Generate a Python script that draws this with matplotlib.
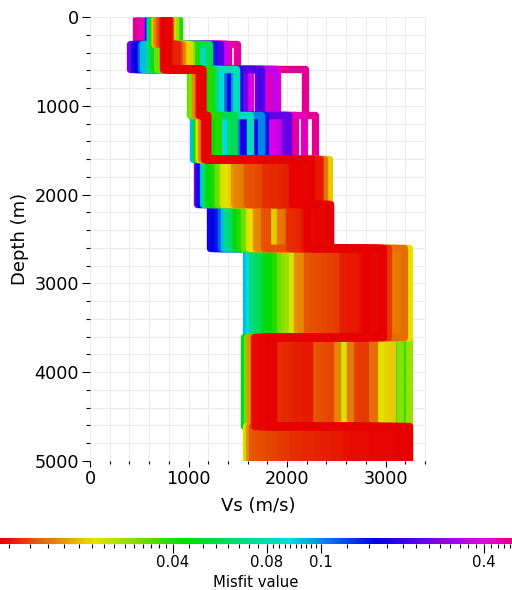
import numpy as np
import matplotlib
matplotlib.use("Agg")
import matplotlib.pyplot as plt
from matplotlib import colors
from matplotlib.cm import ScalarMappable
from matplotlib.ticker import MultipleLocator

# layer tops (m); the last layer is the half space down to depth_max
layer_top = [0, 305, 585, 1100, 1600, 2105, 2605, 3600, 4605]
depth_max = 5000

# one entry per model, worst misfit first (so the best ones are drawn on top)
misfit = [0.49, 0.47, 0.45,
          0.39, 0.37, 0.35,
          0.26, 0.24, 0.22,
          0.17, 0.157, 0.145,
          0.112, 0.102,
          0.092, 0.087, 0.082,
          0.068, 0.063, 0.058,
          0.047, 0.043, 0.040,
          0.032, 0.030, 0.028,
          0.0235, 0.0225, 0.0215, 0.021,
          0.0172, 0.0168, 0.0164, 0.016, 0.0156,
          0.0145, 0.0143, 0.0141, 0.0139, 0.0137, 0.0135, 0.0133,
          0.0129, 0.0128, 0.0127, 0.0126, 0.0125, 0.0124, 0.0123, 0.0122, 0.0121,
          0.0118, 0.0117, 0.0116, 0.0116, 0.0115, 0.0115, 0.0114, 0.0114, 0.0113, 0.0113, 0.0112]

# Vs (m/s) of every model, layer by layer
vs1 = [470, 500, 530,
       700, 760, 790,
       690, 740, 780,
       585, 720, 770,
       600, 750,
       612, 780, 760,
       622, 700, 760,
       632, 880, 900,
       645, 850, 865,
       658, 820, 835, 770,
       670, 690, 710, 815, 790,
       700, 720, 735, 750, 770, 790, 805,
       730, 745, 755, 765, 775, 785, 795, 805, 740,
       745, 755, 765, 775, 785, 760, 770, 780, 790, 750, 770]
vs2 = [1400, 1490, 1390,
       1345, 1375, 780,
       410, 1290, 1320,
       450, 480, 1250,
       515, 565,
       540, 1110, 1160,
       595, 620, 1205,
       650, 1050, 1075,
       680, 1030, 790,
       945, 975, 1005, 780,
       915, 930, 800, 850, 760,
       890, 900, 800, 820, 840, 860, 870,
       820, 835, 850, 865, 880, 800, 810, 790, 775,
       745, 750, 755, 760, 765, 770, 775, 780, 785, 790, 760]
vs3 = [2185, 1830, 1900,
       1620, 1780, 1880,
       1565, 1700, 1740,
       1380, 1420, 1510,
       1350, 1460,
       1290, 1320, 1480,
       1265, 1125, 1130,
       1190, 1215, 1230,
       1015, 1040, 1130,
       1120, 1130, 1125, 1135,
       1065, 1080, 1120, 1140, 1100,
       1115, 1120, 1125, 1130, 1135, 1140, 1110,
       1110, 1115, 1120, 1125, 1130, 1135, 1140, 1118, 1128,
       1110, 1115, 1120, 1125, 1130, 1135, 1140, 1118, 1122, 1128, 1132]
vs4 = [2280, 2080, 2170,
       1850, 1900, 1930,
       1975, 2005, 1560,
       1540, 1690, 1780,
       1480, 1740,
       1045, 1355, 1620,
       1225, 1420, 1460,
       1080, 1270, 1300,
       1095, 1110, 1175,
       1110, 1125, 1175, 1185,
       1130, 1140, 1165, 1175, 1185,
       1165, 1170, 1175, 1180, 1185, 1190, 1160,
       1160, 1165, 1170, 1175, 1180, 1185, 1190, 1172, 1178,
       1165, 1170, 1175, 1180, 1185, 1170, 1175, 1180, 1178, 1172, 1168]
vs5 = [1600, 1900, 2200,
       1700, 2000, 2150,
       1090, 1900, 2100,
       1110, 1740, 2000,
       1820, 2150,
       1145, 1860, 2200,
       1170, 1940, 2240,
       1195, 1230, 1265,
       1300, 1980, 2120,
       1350, 1390, 1430, 2430,
       1465, 1505, 1545, 2375, 1780,
       1590, 1640, 1690, 1740, 2330, 2300, 1860,
       1780, 1820, 1860, 1900, 1940, 1980, 2020, 2290, 2320,
       2080, 2100, 2120, 2140, 2160, 2180, 2200, 2220, 2240, 2050, 2110]
vs6 = [2200, 2300, 2400,
       2250, 2350, 2440,
       2220, 2320, 2420,
       1220, 1260, 1295,
       1325, 2300,
       1360, 2320, 2340,
       1395, 1430, 2360,
       1470, 1500, 1525,
       1560, 2380, 2400,
       1610, 1640, 1860, 1885,
       1680, 1720, 1930, 1960, 1990,
       1770, 1800, 2200, 2250, 2300, 2350, 2400,
       2020, 2050, 2080, 2110, 2140, 2170, 2210, 2260, 2310,
       2185, 2215, 2245, 2275, 2305, 2335, 2365, 2395, 2425, 2440, 2200]
vs7 = [2300, 2600, 2850,
       2400, 2700, 2900,
       2500, 2800, 2950,
       2350, 2650, 2870,
       2450, 2750,
       1580, 1610, 1740,
       1640, 1680, 1710,
       1780, 1830, 1880,
       1930, 1970, 2000,
       2050, 3240, 2600, 2800,
       2100, 2140, 3075, 3130, 3185,
       2200, 2260, 2320, 2380, 2440, 2500, 3020,
       2560, 2590, 2620, 2650, 2680, 2710, 2570, 2630, 2690,
       2760, 2785, 2810, 2835, 2860, 2885, 2910, 2935, 2960, 2970, 2800]
vs8 = [1700, 2000, 2200,
       1750, 1940, 2140,
       1800, 1900, 2100,
       1700, 1840, 2060,
       1760, 2020,
       1720, 1900, 2100,
       1680, 1980, 2180,
       1565, 3110, 3185,
       1590, 3150, 3235,
       2575, 2945, 3010, 3070,
       1620, 2510, 2640, 2840, 2880,
       2280, 2330, 2380, 2440, 2705, 2760, 2790,
       1900, 1940, 1980, 2020, 2060, 2100, 2140, 2180, 2220,
       1660, 1680, 1700, 1720, 1740, 1760, 1780, 1800, 1820, 1840, 1860]
vs9 = [1700, 2180, 2730,
       1820, 2300, 2860,
       1940, 2420, 2990,
       1760, 2240, 2795,
       2060, 2540,
       1880, 2360, 2925,
       2000, 2480, 3055,
       1640, 2120, 3120,
       1700, 2180, 3185,
       1580, 2300, 2665, 3240,
       1610, 1820, 2060, 2420, 2600,
       1640, 1700, 1760, 1820, 1880, 1940, 2000,
       2060, 2120, 2180, 2240, 2300, 2360, 2420, 2480, 2540,
       2600, 2665, 2730, 2795, 2860, 2925, 2990, 3055, 3120, 3185, 3240]

cbar_ticks = [0.04, 0.08, 0.1, 0.4]
cbar_ticklabels = ["0.04", "0.08", "0.1", "0.4"]

# palette: misfit -> position along the colour bar (log, piecewise like the geopsy palette)
pal_misfit = np.log10([0.0112, 0.04, 0.08, 0.1, 0.4, 0.51])
pal_pos = np.array([0, 173, 267, 321, 484, 512]) / 512.0


def fwd(x):
    return np.interp(np.log10(np.clip(x, 1e-4, None)), pal_misfit, pal_pos)


def inv(p):
    return 10 ** np.interp(p, pal_pos, pal_misfit)


norm = colors.FuncNorm((fwd, inv), vmin=0.0112, vmax=0.51)
cmap = colors.LinearSegmentedColormap.from_list("misfit", [
    (0.0, (0.90, 0.0, 0.0)),
    (0.09, (0.90, 0.45, 0.0)),
    (0.185, (0.90, 0.89, 0.0)),
    (0.36, (0.0, 0.86, 0.0)),
    (0.565, (0.0, 0.86, 0.90)),
    (0.735, (0.0, 0.0, 0.90)),
    (0.95, (0.90, 0.0, 0.90)),
    (1.0, (0.88, 0.0, 0.50))])

fig = plt.figure(figsize=(5.12, 5.9), dpi=100)
ax = fig.add_axes([90 / 512, 1 - 461 / 590, 336 / 512, 444 / 590])

layers = [vs1, vs2, vs3, vs4, vs5, vs6, vs7, vs8, vs9]
bottoms = layer_top[1:] + [depth_max]
ys = np.ravel(list(zip(layer_top, bottoms)))
for k, m in enumerate(misfit):
    xs = np.repeat([v[k] for v in layers], 2)
    ax.plot(xs, ys, color=cmap(norm(m)), lw=5.3,
            solid_joinstyle="round", solid_capstyle="butt")

ax.set_xlim(0, 3410)
ax.set_ylim(depth_max, 0)
ax.xaxis.set_major_locator(MultipleLocator(1000))
ax.xaxis.set_minor_locator(MultipleLocator(200))
ax.yaxis.set_major_locator(MultipleLocator(1000))
ax.yaxis.set_minor_locator(MultipleLocator(200))
ax.grid(which="both", color="#ececec", lw=0.8)
ax.set_axisbelow(True)
for s in ax.spines.values():
    s.set_visible(False)
ax.tick_params(axis="y", which="major", length=5.8, width=0.8, labelsize=12.7, pad=2)
ax.tick_params(axis="y", which="minor", length=2.9, width=0.8)
ax.tick_params(axis="x", which="major", length=4.3, width=0.8, labelsize=12.7, pad=2.5)
ax.tick_params(axis="x", which="minor", length=2.2, width=0.8)
ax.set_xlabel("Vs (m/s)", fontsize=13, labelpad=6)
ax.set_ylabel("Depth (m)", fontsize=13, labelpad=4)

cax = fig.add_axes([0, 1 - 544.3 / 590, 1, 6.6 / 590])
cb = fig.colorbar(ScalarMappable(norm=norm, cmap=cmap), cax=cax, orientation="horizontal")
cb.outline.set_visible(False)
cb.set_ticks(cbar_ticks, labels=cbar_ticklabels)
minor = ([0.012 + 0.002 * i for i in range(14)] + [0.045 + 0.005 * i for i in range(7)]
         + [0.082 + 0.002 * i for i in range(9)] + [0.125 + 0.025 * i for i in range(11)]
         + [0.425, 0.45, 0.475, 0.5])
cb.set_ticks(minor, minor=True)
cax.tick_params(which="major", length=6.5, width=0.8, labelsize=10.7, pad=1)
cax.tick_params(which="minor", length=3, width=0.8)
cb.set_label("Misfit value", fontsize=10.7, labelpad=4)

fig.savefig("out.png", dpi=100)
